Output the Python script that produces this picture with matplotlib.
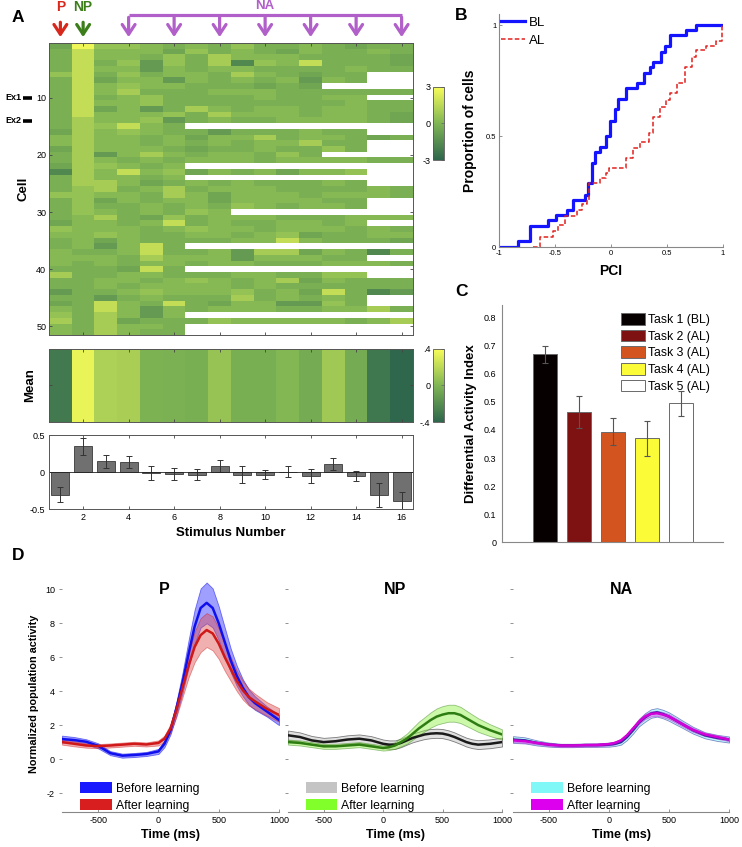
import numpy as np
import matplotlib
matplotlib.use('Agg')
import matplotlib.pyplot as plt
from matplotlib.colors import LinearSegmentedColormap
from matplotlib import transforms
from matplotlib.patches import Patch

plt.rcParams['font.family'] = ['Liberation Sans', 'DejaVu Sans']
plt.rcParams['axes.unicode_minus'] = False

# ---------------- data ----------------
# heat map: one string per cell (row), one character per stimulus
# (digit = colour level, see heat_levels; '.' = no data)
heat_levels = [-2.4, -1.7, -1.0, -0.55, -0.18, 0.18, 0.55, 1.0, 1.7, 2.8]
heat_rows = [
    "3966545464454344", "4855536454354454", "4855464755544443", "4846264716584443",
    "4855254554444544", "68464554754344..", "48355254545254..", "485655444343....",
    "4857444555444444", "48456444454455..", "4855644444444544", "4835247545545544",
    "4855564755545543", "4755624544555543", "476854..........", "37565442444544..",
    "5755453557455434", "57554545455744..", "37555434454464..", "472575455464....",
    "4754545554555544", "376545..........", "17585635453556..", "475545..........",
    "47753454544454..", "4674574555444454", "6655475355545554", "46354553555544..",
    "46445454654554..", "46545465........", "4574364555444555", "35545845445545..",
    "6555456554555454", "5565445545634455", "4535444455854443", "452584..........",
    "5445844527735414", "55547555255544..", "5454554554445554", "444384..........",
    "74455444554466..", "4455456545735444", "4454555545444444", "2445655564538412",
    "44245444745454..", "34854843552264..", "5485254555445574", "647525..........",
    "7473444655555457", "547554..........", "547544..........",
]
stimuli = list(range(1, 17))
mean_resp = [-0.30, 0.35, 0.15, 0.14, -0.01, -0.02, -0.03, 0.08,
             -0.03, -0.03, 0.01, -0.05, 0.11, -0.05, -0.31, -0.39]
mean_err = [0.10, 0.12, 0.09, 0.08, 0.10, 0.08, 0.08, 0.08,
            0.11, 0.06, 0.08, 0.10, 0.08, 0.07, 0.16, 0.12]

# panel B: cumulative distributions (step positions and levels)
bl_pci = [-1.0, -0.834, -0.724, -0.560, -0.495, -0.397, -0.337, -0.233, -0.204, -0.174,
          -0.144, -0.100, -0.049, -0.010, 0.040, 0.064, 0.138, 0.233, 0.293, 0.346,
          0.376, 0.450, 0.486, 0.524, 0.673, 0.762, 1.0]
bl_prop = [0.0, 0.025, 0.096, 0.12, 0.145, 0.165, 0.213, 0.235, 0.29, 0.378,
           0.43, 0.45, 0.50, 0.57, 0.62, 0.667, 0.715, 0.74, 0.786, 0.81,
           0.835, 0.88, 0.905, 0.955, 0.977, 1.0, 1.0]
al_pci = [-0.694, -0.634, -0.516, -0.47, -0.41, -0.30, -0.263, -0.218, -0.198, -0.10,
          -0.049, -0.02, 0.138, 0.198, 0.257, 0.34, 0.376, 0.435, 0.495, 0.524,
          0.59, 0.658, 0.724, 0.762, 0.851, 0.94, 0.99, 1.0]
al_prop = [0.0, 0.045, 0.07, 0.10, 0.14, 0.165, 0.195, 0.213, 0.29, 0.31,
           0.333, 0.355, 0.40, 0.445, 0.475, 0.513, 0.588, 0.633, 0.663, 0.693,
           0.738, 0.813, 0.858, 0.888, 0.906, 0.93, 1.0, 1.0]

# panel C
tasks = ["Task 1 (BL)", "Task 2 (AL)", "Task 3 (AL)", "Task 4 (AL)", "Task 5 (AL)"]
dai = [0.669, 0.463, 0.393, 0.370, 0.495]
dai_err = [0.031, 0.057, 0.048, 0.063, 0.045]
task_colors = ["#070000", "#7e1213", "#d4541f", "#fbfb37", "#ffffff"]

# panel D: population activity (time in ms)
time_ms = [-800, -700, -600, -500, -400, -300, -200, -100, 0,
           50, 100, 150, 200, 250, 300, 350, 400, 450, 500, 550, 600, 650, 700, 750, 800,
           900, 1000]
p_before = [1.18, 1.12, 1.02, 0.78, 0.35, 0.20, 0.24, 0.30, 0.45,
            0.90, 1.70, 3.00, 4.50, 6.20, 7.80, 8.90, 9.20, 8.90, 8.00, 6.90, 5.80, 4.90,
            4.20, 3.65, 3.30, 2.80, 2.30]
p_before_sem = [0.20, 0.18, 0.15, 0.15, 0.12, 0.12, 0.12, 0.12, 0.15,
                0.20, 0.25, 0.40, 0.60, 0.80, 1.00, 1.15, 1.20, 1.15, 1.00, 0.85, 0.70, 0.60,
                0.50, 0.45, 0.40, 0.30, 0.30]
p_after = [1.00, 0.90, 0.80, 0.76, 0.80, 0.85, 0.90, 0.86, 0.95,
           1.20, 1.80, 2.90, 4.20, 5.50, 6.60, 7.30, 7.60, 7.40, 6.80, 6.00, 5.30, 4.60,
           4.05, 3.65, 3.40, 2.95, 2.60]
p_after_sem = [0.15, 0.15, 0.13, 0.12, 0.12, 0.12, 0.12, 0.12, 0.15,
               0.18, 0.25, 0.40, 0.55, 0.70, 0.90, 1.00, 1.00, 1.00, 0.90, 0.80, 0.70, 0.60,
               0.55, 0.50, 0.45, 0.40, 0.40]
np_before = [1.40, 1.30, 1.10, 1.00, 1.05, 1.15, 1.20, 1.10, 0.90,
             0.85, 0.85, 0.95, 1.10, 1.25, 1.35, 1.45, 1.50, 1.52, 1.50, 1.42, 1.30, 1.15,
             1.00, 0.90, 0.85, 0.90, 1.00]
np_before_sem = [0.28, 0.27, 0.26, 0.25, 0.25, 0.25, 0.25, 0.25, 0.25,
                 0.25, 0.25, 0.25, 0.25, 0.26, 0.26, 0.27, 0.27, 0.27, 0.27, 0.27, 0.27, 0.26,
                 0.26, 0.26, 0.26, 0.26, 0.26]
np_after = [1.00, 0.95, 0.85, 0.75, 0.75, 0.80, 0.85, 0.75, 0.65,
            0.70, 0.80, 1.00, 1.20, 1.50, 1.80, 2.05, 2.30, 2.50, 2.62, 2.70, 2.70, 2.60,
            2.40, 2.20, 2.00, 1.70, 1.45]
np_after_sem = [0.15, 0.15, 0.15, 0.15, 0.15, 0.15, 0.15, 0.15, 0.15,
                0.17, 0.20, 0.25, 0.30, 0.35, 0.40, 0.42, 0.45, 0.48, 0.50, 0.50, 0.50, 0.48,
                0.45, 0.42, 0.40, 0.35, 0.30]
na_before = [1.15, 1.10, 0.95, 0.85, 0.80, 0.80, 0.82, 0.82, 0.85,
             0.90, 1.00, 1.30, 1.70, 2.15, 2.45, 2.68, 2.75, 2.65, 2.50, 2.30, 2.10, 1.90,
             1.70, 1.55, 1.40, 1.25, 1.15]
na_before_sem = [0.20, 0.18, 0.15, 0.12, 0.10, 0.10, 0.10, 0.10, 0.12,
                 0.13, 0.15, 0.18, 0.20, 0.22, 0.25, 0.25, 0.25, 0.25, 0.25, 0.24, 0.22, 0.21,
                 0.20, 0.19, 0.18, 0.18, 0.18]
na_after = [1.10, 1.05, 0.95, 0.85, 0.80, 0.80, 0.82, 0.83, 0.88,
            0.95, 1.10, 1.40, 1.80, 2.20, 2.50, 2.66, 2.70, 2.62, 2.50, 2.30, 2.10, 1.90,
            1.72, 1.58, 1.45, 1.30, 1.15]
na_after_sem = [0.10, 0.10, 0.08, 0.08, 0.08, 0.08, 0.08, 0.08, 0.08,
                0.09, 0.10, 0.11, 0.12, 0.14, 0.15, 0.15, 0.15, 0.15, 0.15, 0.14, 0.13, 0.12,
                0.12, 0.11, 0.10, 0.10, 0.10]

# ---------------- figure ----------------
W, H = 742, 847
fig = plt.figure(figsize=(W / 100, H / 100), dpi=100)


def rect(x0, y0, x1, y1):
    return [x0 / W, 1 - y1 / H, (x1 - x0) / W, (y1 - y0) / H]


cmap = LinearSegmentedColormap.from_list(
    "grn", [(0.18, 0.40, 0.30), (0.50, 0.71, 0.33), (0.97, 0.99, 0.35)])
cmap.set_bad("white")

SP = "#555555"

# decode heat map
M = np.array([[np.nan if c == '.' else heat_levels[int(c)] for c in r] for r in heat_rows])
nrows = M.shape[0]

axh = fig.add_axes(rect(49, 43.4, 413, 334.9))
im = axh.imshow(M, cmap=cmap, vmin=-3, vmax=3, aspect='auto', interpolation='nearest',
                extent=(0.5, 16.5, nrows + 0.5, 0.5))
axh.set_xticks(range(2, 17, 2))
axh.set_yticks([10, 20, 30, 40, 50])
axh.tick_params(direction='in', top=True, right=True, labelbottom=False, length=2.5,
                width=0.6, color='#444444', labelsize=6.5, pad=2)
for s in axh.spines.values():
    s.set_color(SP)
    s.set_linewidth(0.7)
axh.set_ylabel('Cell', fontweight='bold', fontsize=9.5, labelpad=5)

# example cell markers
tr_h = transforms.blended_transform_factory(axh.transAxes, axh.transData)
for lab, row in [("Ex1", 10), ("Ex2", 14)]:
    axh.text(-0.075, row, lab, transform=tr_h, ha='right', va='center', fontsize=6.5,
             fontweight='bold')
    axh.plot([-0.071, -0.046], [row, row], transform=tr_h, color='k', lw=2.6,
             clip_on=False, solid_capstyle='butt')

# arrows above heat map
tr_a = transforms.blended_transform_factory(axh.transData, axh.transAxes)
arrow_kw = dict(arrowstyle='->,head_length=0.5,head_width=0.33', lw=2.3, mutation_scale=14)
axh.annotate('', xy=(1, 1.012), xytext=(1, 1.082), xycoords=tr_a, textcoords=tr_a,
             arrowprops=dict(color='#d8281c', **arrow_kw))
axh.annotate('', xy=(2, 1.012), xytext=(2, 1.082), xycoords=tr_a, textcoords=tr_a,
             arrowprops=dict(color='#3b7e1a', **arrow_kw))
na_cols = [4, 6, 8, 10, 12, 14, 16]
axh.plot([na_cols[0], na_cols[-1]], [1.097, 1.097], transform=tr_a, color='#b15fc9',
         lw=2.3, clip_on=False, solid_capstyle='butt')
for c in na_cols:
    axh.annotate('', xy=(c, 1.012), xytext=(c, 1.099), xycoords=tr_a, textcoords=tr_a,
                 arrowprops=dict(color='#b15fc9', **arrow_kw))
axh.text(1, 1.124, 'P', transform=tr_a, ha='center', va='center', color='#d8281c',
         fontsize=10, fontweight='bold')
axh.text(2, 1.124, 'NP', transform=tr_a, ha='center', va='center', color='#3b7e1a',
         fontsize=10, fontweight='bold')
axh.text(10, 1.128, 'NA', transform=tr_a, ha='center', va='center', color='#b15fc9',
         fontsize=9.5, fontweight='bold')

cax = fig.add_axes(rect(433, 87, 444, 160))
cb = fig.colorbar(im, cax=cax, ticks=[-3, 0, 3])
cb.ax.set_yticklabels(['-3', '0', '3'])
cb.ax.tick_params(left=False, right=True, labelleft=True, labelright=False, direction='in',
                  length=2, width=0.5, labelsize=6.5, pad=2, color='#666666')
cb.outline.set_edgecolor(SP)
cb.outline.set_linewidth(0.6)

# mean heat map
axm = fig.add_axes(rect(49, 349, 413, 422))
im2 = axm.imshow(np.array(mean_resp)[None, :], cmap=cmap, vmin=-0.4, vmax=0.4, aspect='auto',
                 interpolation='nearest', extent=(0.5, 16.5, 0, 1))
axm.set_xticks(range(2, 17, 2))
axm.set_yticks([0.5])
axm.set_yticklabels([])
axm.tick_params(direction='in', top=True, right=True, labelbottom=False, length=2.5,
                width=0.6, color='#444444')
for s in axm.spines.values():
    s.set_color(SP)
    s.set_linewidth(0.7)
axm.set_ylabel('Mean', fontweight='bold', fontsize=9.5, labelpad=6)

cax2 = fig.add_axes(rect(433, 349, 444, 422))
cb2 = fig.colorbar(im2, cax=cax2, ticks=[-0.4, 0, 0.4])
cb2.ax.set_yticklabels(['-.4', '0', '.4'])
cb2.ax.tick_params(left=False, right=True, labelleft=True, labelright=False, direction='in',
                   length=2, width=0.5, labelsize=6.5, pad=2, color='#666666')
cb2.outline.set_edgecolor(SP)
cb2.outline.set_linewidth(0.6)

# bar chart
axb = fig.add_axes(rect(49, 435.3, 413, 509.3))
axb.bar(stimuli, mean_resp, width=0.8, color='#707070', edgecolor='#3a3a3a', linewidth=0.6)
axb.errorbar(stimuli, mean_resp, yerr=mean_err, fmt='none', ecolor='#333333', elinewidth=0.7,
             capsize=2, capthick=0.7)
axb.axhline(0, color='#222222', lw=0.6)
axb.set_xlim(0.5, 16.5)
axb.set_ylim(-0.5, 0.5)
axb.set_xticks(range(2, 17, 2))
axb.set_yticks([-0.5, 0, 0.5])
axb.set_yticklabels(['-0.5', '0', '0.5'])
axb.tick_params(direction='in', top=True, right=True, length=2.5, width=0.6,
                color='#444444', labelsize=6.5, pad=3)
for s in axb.spines.values():
    s.set_color(SP)
    s.set_linewidth(0.7)
axb.set_xlabel('Stimulus Number', fontweight='bold', fontsize=9.5, labelpad=3)

# ---------------- panel B ----------------
axB = fig.add_axes(rect(499, 14, 723, 247))
axB.step(bl_pci, bl_prop, where='post', color='#1414ff', lw=2.3, label='BL')
axB.step(al_pci, al_prop, where='post', color='#e0201c', lw=1.1, ls=(0, (3, 1.5)), label='AL')
axB.set_xlim(-1, 1)
axB.set_ylim(0, 1.05)
axB.set_xticks([-1, -0.5, 0, 0.5, 1])
axB.set_xticklabels(['-1', '-0.5', '0', '0.5', '1'])
axB.set_yticks([0, 0.5, 1])
axB.set_yticklabels(['0', '0.5', '1'])
axB.tick_params(direction='in', length=2, width=0.5, labelsize=5.5, color='#666666', pad=2)
for k in ['top', 'right']:
    axB.spines[k].set_visible(False)
for k in ['left', 'bottom']:
    axB.spines[k].set_color('#888888')
    axB.spines[k].set_linewidth(0.8)
axB.set_ylabel('Proportion of cells', fontweight='bold', fontsize=10, labelpad=6)
axB.set_xlabel('PCI', fontweight='bold', fontsize=10, labelpad=5)
axB.legend(loc='upper left', bbox_to_anchor=(0.01, 0.99), frameon=False, fontsize=9.5,
           handlelength=1.8, handletextpad=0.3, labelspacing=0.45, borderaxespad=0,
           borderpad=0)

# ---------------- panel C ----------------
axC = fig.add_axes(rect(502, 305, 723, 542.3))
xpos = np.arange(1, len(dai) + 1)
axC.bar(xpos, dai, width=0.7, color=task_colors, edgecolor='#6a6a6a', linewidth=0.7)
axC.errorbar(xpos, dai, yerr=dai_err, fmt='none', ecolor='#555555', elinewidth=0.8,
             capsize=2, capthick=0.8)
axC.set_xlim(-0.26, 6.24)
axC.set_ylim(0, 0.845)
axC.set_xticks([])
axC.set_yticks(np.round(np.arange(0, 0.81, 0.1), 1))
axC.set_yticklabels(['0', '0.1', '0.2', '0.3', '0.4', '0.5', '0.6', '0.7', '0.8'])
axC.tick_params(direction='in', length=0, labelsize=6.5, pad=4)
for k in ['top', 'right']:
    axC.spines[k].set_visible(False)
for k in ['left', 'bottom']:
    axC.spines[k].set_color('#888888')
    axC.spines[k].set_linewidth(0.8)
axC.set_ylabel('Differential Activity Index', fontweight='bold', fontsize=9.5, labelpad=5)
handles = [Patch(facecolor=c, edgecolor='#6a6a6a', linewidth=0.7) for c in task_colors]
axC.legend(handles, tasks, loc='upper left', bbox_to_anchor=(0.54, 0.965), frameon=False,
           fontsize=8.8, handlelength=1.9, handleheight=1.07, labelspacing=0.3,
           handletextpad=0.3, borderaxespad=0, borderpad=0)

# ---------------- panel D ----------------
panels = [
    ("P", p_before, p_before_sem, p_after, p_after_sem,
     ('#1010ee', '#5050ff', '#1a1aff'), ('#d01818', '#e05050', '#d81e1e'), (62, 279)),
    ("NP", np_before, np_before_sem, np_after, np_after_sem,
     ('#1a1a1a', '#c8c8c8', '#c4c4c4'), ('#2e7d12', '#8cf040', '#80ff2a'), (288, 502)),
    ("NA", na_before, na_before_sem, na_after, na_after_sem,
     ('#2a2a9a', '#7ff8f8', '#80f8f8'), ('#d400d8', '#e040e8', '#dd00ee'), (513, 729)),
]
t = np.array(time_ms)
for i, (name, mb, sb, ma, sa, cb_, ca_, (x0, x1)) in enumerate(panels):
    ax = fig.add_axes(rect(x0, 575.7, x1, 811.7))
    mb, sb, ma, sa = map(np.array, (mb, sb, ma, sa))
    ax.fill_between(t, mb - sb, mb + sb, color=cb_[1], alpha=0.55, lw=0.6,
                    edgecolor=cb_[0])
    ax.plot(t, mb, color=cb_[0], lw=1.8)
    ax.fill_between(t, ma - sa, ma + sa, color=ca_[1], alpha=0.45, lw=0.6,
                    edgecolor=ca_[0])
    ax.plot(t, ma, color=ca_[0], lw=1.8)
    ax.set_xlim(-800, 1000)
    ax.set_ylim(-3.1, 10.8)
    ax.set_xticks([-500, 0, 500, 1000])
    ax.set_yticks([-2, 0, 2, 4, 6, 8, 10])
    ax.tick_params(direction='in', length=2, width=0.5, labelsize=6.5, color='#666666', pad=3)
    ax.tick_params(axis='y', direction='out', length=2)
    for k in ['top', 'right', 'left']:
        ax.spines[k].set_visible(False)
    ax.spines['bottom'].set_color('#888888')
    ax.spines['bottom'].set_linewidth(0.8)
    if i > 0:
        ax.set_yticklabels([])
    else:
        ax.set_ylabel('Normalized population activity', fontweight='bold', fontsize=7.8,
                      labelpad=4)
    ax.set_xlabel('Time (ms)', fontweight='bold', fontsize=9, labelpad=3)
    ax.text(0.5 if i else 0.47, 0.94, name, transform=ax.transAxes, ha='center',
            va='center', fontsize=11.5, fontweight='bold')
    hl = [Patch(facecolor=cb_[2], edgecolor='none'), Patch(facecolor=ca_[2], edgecolor='none')]
    ax.legend(hl, ['Before learning', 'After learning'], loc='lower left',
              bbox_to_anchor=(0.085, 0.0), frameon=False, fontsize=8.8, handlelength=2.55,
              handleheight=1.07, labelspacing=0.33, handletextpad=0.33, borderaxespad=0,
              borderpad=0)

# panel letters
for lab, x, y in [("A", 12, 17), ("B", 455, 15), ("C", 455, 291), ("D", 12, 556)]:
    fig.text(x / W, 1 - y / H, lab, fontsize=12.5, fontweight='bold', ha='left', va='center')

fig.savefig('out.png', dpi=100)
